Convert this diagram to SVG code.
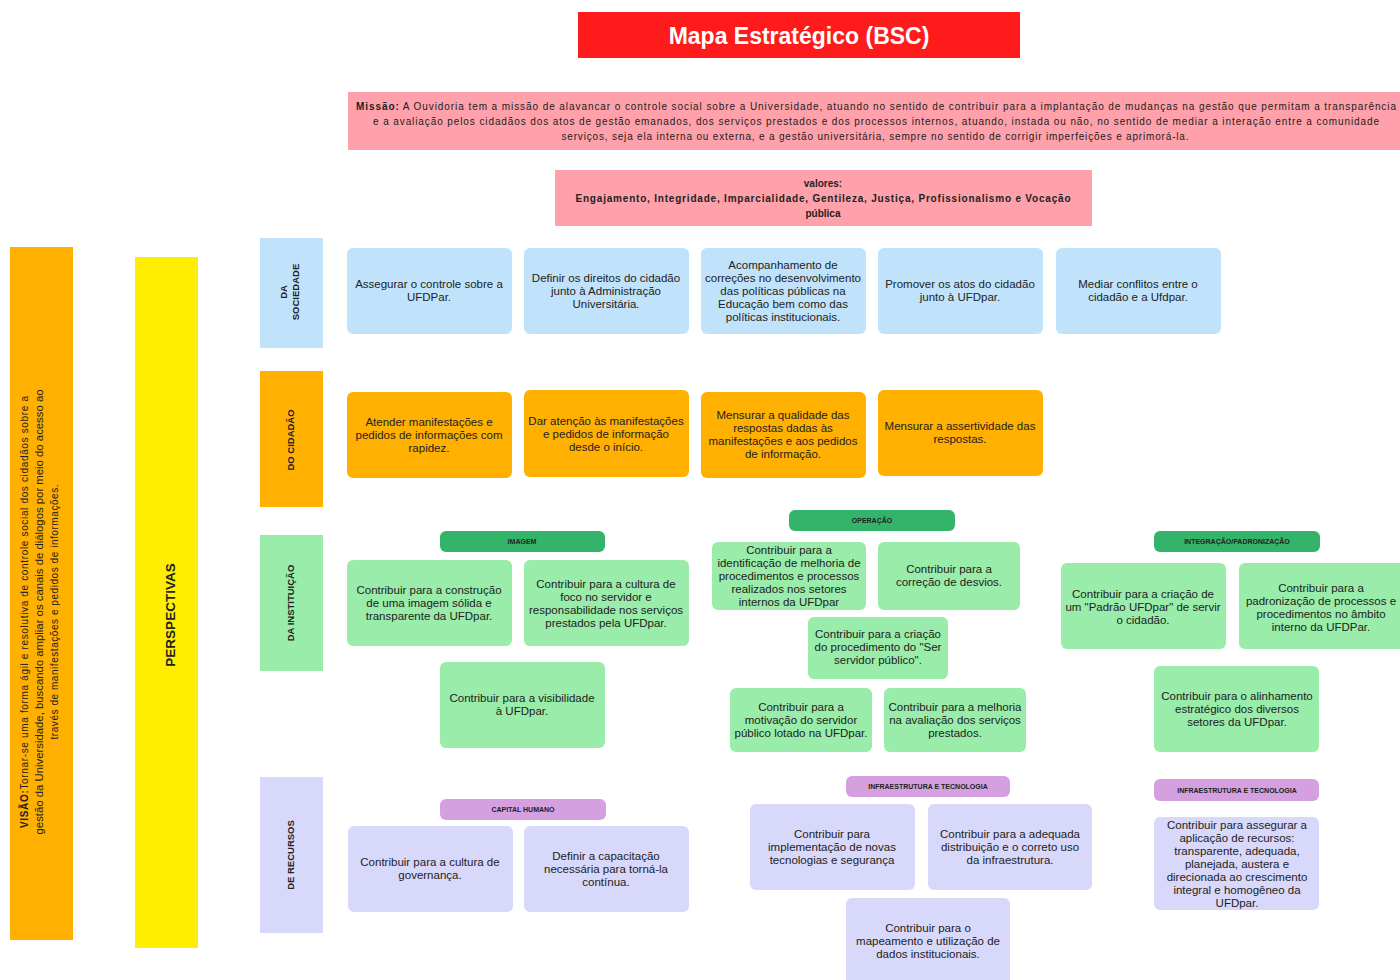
<svg xmlns="http://www.w3.org/2000/svg" width="1400" height="980" viewBox="0 0 1400 980">
<style>
.t{font-family:"Liberation Sans",Arial,sans-serif;font-size:11.5px;fill:#222;text-anchor:middle}
.m{font-family:"Liberation Sans",Arial,sans-serif;font-size:10px;fill:#222;text-anchor:middle}
.b{font-weight:bold}
.p{font-family:"Liberation Sans",Arial,sans-serif;font-size:9.5px;font-weight:bold;fill:#222;text-anchor:middle}
.h{font-family:"Liberation Sans",Arial,sans-serif;font-size:7px;font-weight:bold;fill:#222;text-anchor:middle}
.blue{fill:#c0e3fb}
.org{fill:#ffb000}
.grn{fill:#99eca9}
.dgr{fill:#34b46a}
.lav{fill:#d8d8fb}
.pur{fill:#d4a0e0}
</style>
<rect width="1400" height="980" fill="#ffffff"/>
<g id="title">
<rect x="578" y="12" width="442" height="46" fill="#ff1b1b"/>
<text x="799" y="44" style="font-family:'Liberation Sans',Arial,sans-serif;font-size:23px;font-weight:bold;fill:#fff;text-anchor:middle">Mapa Estratégico (BSC)</text>
</g>
<g id="missao">
<rect x="348" y="92" width="1060" height="58" fill="#ffa1ab"/>
<text class="m" x="876" y="110" textLength="1040" lengthAdjust="spacing"><tspan class="b">Missão:</tspan> A Ouvidoria tem a missão de alavancar o controle social sobre a Universidade, atuando no sentido de contribuir para a implantação de mudanças na gestão que permitam a transparência</text>
<text class="m" x="876" y="125" textLength="1006" lengthAdjust="spacing">e a avaliação pelos cidadãos dos atos de gestão emanados, dos serviços prestados e dos processos internos, atuando, instada ou não, no sentido de mediar a interação entre a comunidade</text>
<text class="m" x="875" y="140" textLength="627" lengthAdjust="spacing">serviços, seja ela interna ou externa, e a gestão universitária, sempre no sentido de corrigir imperfeições e aprimorá-la.</text>
</g>
<g id="valores">
<rect x="555" y="170" width="537" height="56" fill="#ffa1ab"/>
<text class="m b" x="823" y="187">valores:</text>
<text class="m b" x="823" y="202" textLength="495" lengthAdjust="spacing">Engajamento, Integridade, Imparcialidade, Gentileza, Justiça, Profissionalismo e Vocação</text>
<text class="m b" x="823" y="217">pública</text>
</g>
<g id="visao">
<rect x="10" y="247" width="63" height="693" fill="#ffb000"/>
<g transform="translate(41,612) rotate(-90)">
<text class="m" x="0" y="-13" textLength="432" lengthAdjust="spacing"><tspan class="b">VISÃO:</tspan>Tornar-se uma forma ágil e resolutiva de controle social dos cidadãos sobre a</text>
<text class="m" x="0" y="2" textLength="445" lengthAdjust="spacingAndGlyphs">gestão da Universidade, buscando ampliar os canais de diálogos por meio do acesso ao</text>
<text class="m" x="0" y="17" textLength="255" lengthAdjust="spacing">través de manifestações e pedidos de informações.</text>
</g>
</g>
<g id="perspectivas">
<rect x="135" y="257" width="63" height="691" fill="#ffee00"/>
<text transform="translate(175,615) rotate(-90)" style="font-family:'Liberation Sans',Arial,sans-serif;font-size:13.5px;font-weight:bold;fill:#222;text-anchor:middle">PERSPECTIVAS</text>
</g>
<g id="persp-sociedade">
<rect class="blue" x="260" y="238" width="63" height="110"/>
<g transform="translate(291,292) rotate(-90)">
<text class="p" x="0" y="-4">DA</text>
<text class="p" x="0" y="8">SOCIEDADE</text>
</g>
</g>
<g id="persp-cidadao">
<rect class="org" x="260" y="371" width="63" height="136"/>
<text class="p" transform="translate(294,440) rotate(-90)">DO CIDADÃO</text>
</g>
<g id="persp-instituicao">
<rect class="grn" x="260" y="535" width="63" height="136"/>
<text class="p" transform="translate(294,603) rotate(-90)">DA INSTITUIÇÃO</text>
</g>
<g id="persp-recursos">
<rect class="lav" x="260" y="777" width="63" height="156"/>
<text class="p" transform="translate(294,855) rotate(-90)">DE RECURSOS</text>
</g>

<g id="soc1"><rect class="blue" x="347" y="248" width="165" height="86" rx="6"/>
<text class="t" x="429" y="288">Assegurar o controle sobre a</text><text class="t" x="429" y="301">UFDPar.</text></g>
<g id="soc2"><rect class="blue" x="524" y="248" width="165" height="86" rx="6"/>
<text class="t" x="606" y="282">Definir os direitos do cidadão</text><text class="t" x="606" y="295">junto à Administração</text><text class="t" x="606" y="308">Universitária.</text></g>
<g id="soc3"><rect class="blue" x="701" y="248" width="165" height="86" rx="6"/>
<text class="t" x="783" y="269">Acompanhamento de</text><text class="t" x="783" y="282">correções no desenvolvimento</text><text class="t" x="783" y="295">das políticas públicas na</text><text class="t" x="783" y="308">Educação bem como das</text><text class="t" x="783" y="321">políticas institucionais.</text></g>
<g id="soc4"><rect class="blue" x="878" y="248" width="165" height="86" rx="6"/>
<text class="t" x="960" y="288">Promover os atos do cidadão</text><text class="t" x="960" y="301">junto à UFDpar.</text></g>
<g id="soc5"><rect class="blue" x="1056" y="248" width="165" height="86" rx="6"/>
<text class="t" x="1138" y="288">Mediar conflitos entre o</text><text class="t" x="1138" y="301">cidadão e a Ufdpar.</text></g>

<g id="cid1"><rect class="org" x="347" y="392" width="165" height="86" rx="6"/>
<text class="t" x="429" y="426">Atender manifestações e</text><text class="t" x="429" y="439">pedidos de informações com</text><text class="t" x="429" y="452">rapidez.</text></g>
<g id="cid2"><rect class="org" x="524" y="390" width="165" height="87" rx="6"/>
<text class="t" x="606" y="425">Dar atenção às manifestações</text><text class="t" x="606" y="438">e pedidos de informação</text><text class="t" x="606" y="451">desde o início.</text></g>
<g id="cid3"><rect class="org" x="701" y="392" width="165" height="86" rx="6"/>
<text class="t" x="783" y="419">Mensurar a qualidade das</text><text class="t" x="783" y="432">respostas dadas às</text><text class="t" x="783" y="445">manifestações e aos pedidos</text><text class="t" x="783" y="458">de informação.</text></g>
<g id="cid4"><rect class="org" x="878" y="390" width="165" height="86" rx="6"/>
<text class="t" x="960" y="430">Mensurar a assertividade das</text><text class="t" x="960" y="443">respostas.</text></g>

<g id="h-imagem"><rect class="dgr" x="440" y="531" width="165" height="21" rx="6"/><text class="h" x="522" y="544">IMAGEM</text></g>
<g id="ins1"><rect class="grn" x="347" y="560" width="165" height="86" rx="6"/>
<text class="t" x="429" y="594">Contribuir para a construção</text><text class="t" x="429" y="607">de uma imagem sólida e</text><text class="t" x="429" y="620">transparente da UFDpar.</text></g>
<g id="ins2"><rect class="grn" x="524" y="560" width="165" height="86" rx="6"/>
<text class="t" x="606" y="588">Contribuir para a cultura de</text><text class="t" x="606" y="601">foco no servidor e</text><text class="t" x="606" y="614">responsabilidade nos serviços</text><text class="t" x="606" y="627">prestados pela UFDpar.</text></g>
<g id="ins3"><rect class="grn" x="440" y="662" width="165" height="86" rx="6"/>
<text class="t" x="522" y="702">Contribuir para a visibilidade</text><text class="t" x="522" y="715">à UFDpar.</text></g>

<g id="h-operacao"><rect class="dgr" x="789" y="510" width="166" height="21" rx="6"/><text class="h" x="872" y="523">OPERAÇÃO</text></g>
<g id="op1"><rect class="grn" x="712" y="542" width="154" height="68" rx="6"/>
<text class="t" x="789" y="554">Contribuir para a</text><text class="t" x="789" y="567">identificação de melhoria de</text><text class="t" x="789" y="580">procedimentos e processos</text><text class="t" x="789" y="593">realizados nos setores</text><text class="t" x="789" y="606">internos da UFDpar</text></g>
<g id="op2"><rect class="grn" x="878" y="542" width="142" height="68" rx="6"/>
<text class="t" x="949" y="573">Contribuir para a</text><text class="t" x="949" y="586">correção de desvios.</text></g>
<g id="op3"><rect class="grn" x="808" y="617" width="140" height="62" rx="6"/>
<text class="t" x="878" y="638">Contribuir para a criação</text><text class="t" x="878" y="651">do procedimento do "Ser</text><text class="t" x="878" y="664">servidor público".</text></g>
<g id="op4"><rect class="grn" x="730" y="688" width="142" height="64" rx="6"/>
<text class="t" x="801" y="711">Contribuir para a</text><text class="t" x="801" y="724">motivação do servidor</text><text class="t" x="801" y="737">público lotado na UFDpar.</text></g>
<g id="op5"><rect class="grn" x="884" y="688" width="142" height="64" rx="6"/>
<text class="t" x="955" y="711">Contribuir para a melhoria</text><text class="t" x="955" y="724">na avaliação dos serviços</text><text class="t" x="955" y="737">prestados.</text></g>

<g id="h-integracao"><rect class="dgr" x="1154" y="531" width="166" height="21" rx="6"/><text class="h" x="1237" y="544">INTEGRAÇÃO/PADRONIZAÇÃO</text></g>
<g id="int1"><rect class="grn" x="1061" y="563" width="165" height="86" rx="6"/>
<text class="t" x="1143" y="598">Contribuir para a criação de</text><text class="t" x="1143" y="611">um "Padrão UFDpar" de servir</text><text class="t" x="1143" y="624">o cidadão.</text></g>
<g id="int2"><rect class="grn" x="1239" y="563" width="170" height="86" rx="6"/>
<text class="t" x="1321" y="592">Contribuir para a</text><text class="t" x="1321" y="605">padronização de processos e</text><text class="t" x="1321" y="618">procedimentos no âmbito</text><text class="t" x="1321" y="631">interno da UFDPar.</text></g>
<g id="int3"><rect class="grn" x="1154" y="666" width="165" height="86" rx="6"/>
<text class="t" x="1237" y="700">Contribuir para o alinhamento</text><text class="t" x="1237" y="713">estratégico dos diversos</text><text class="t" x="1237" y="726">setores da UFDpar.</text></g>

<g id="h-capital"><rect class="pur" x="440" y="799" width="166" height="21" rx="6"/><text class="h" x="523" y="812">CAPITAL HUMANO</text></g>
<g id="rec1"><rect class="lav" x="348" y="826" width="165" height="86" rx="6"/>
<text class="t" x="430" y="866">Contribuir para a cultura de</text><text class="t" x="430" y="879">governança.</text></g>
<g id="rec2"><rect class="lav" x="524" y="826" width="165" height="86" rx="6"/>
<text class="t" x="606" y="860">Definir a capacitação</text><text class="t" x="606" y="873">necessária para torná-la</text><text class="t" x="606" y="886">contínua.</text></g>

<g id="h-infra1"><rect class="pur" x="846" y="776" width="164" height="21" rx="6"/><text class="h" x="928" y="789">INFRAESTRUTURA E TECNOLOGIA</text></g>
<g id="inf1"><rect class="lav" x="750" y="804" width="165" height="86" rx="6"/>
<text class="t" x="832" y="838">Contribuir para</text><text class="t" x="832" y="851">implementação de novas</text><text class="t" x="832" y="864">tecnologias e segurança</text></g>
<g id="inf2"><rect class="lav" x="928" y="804" width="164" height="86" rx="6"/>
<text class="t" x="1010" y="838">Contribuir para a adequada</text><text class="t" x="1010" y="851">distribuição e o correto uso</text><text class="t" x="1010" y="864">da infraestrutura.</text></g>
<g id="inf3"><rect class="lav" x="846" y="898" width="164" height="90" rx="6"/>
<text class="t" x="928" y="932">Contribuir para o</text><text class="t" x="928" y="945">mapeamento e utilização de</text><text class="t" x="928" y="958">dados institucionais.</text></g>

<g id="h-infra2"><rect class="pur" x="1154" y="779" width="165" height="22" rx="6"/><text class="h" x="1237" y="793">INFRAESTRUTURA E TECNOLOGIA</text></g>
<g id="inf4"><rect class="lav" x="1154" y="817" width="165" height="93" rx="6"/>
<text class="t" x="1237" y="829">Contribuir para assegurar a</text><text class="t" x="1237" y="842">aplicação de recursos:</text><text class="t" x="1237" y="855">transparente, adequada,</text><text class="t" x="1237" y="868">planejada, austera e</text><text class="t" x="1237" y="881">direcionada ao crescimento</text><text class="t" x="1237" y="894">integral e homogêneo da</text><text class="t" x="1237" y="907">UFDpar.</text></g>
<g id="connectors"></g>
</svg>
